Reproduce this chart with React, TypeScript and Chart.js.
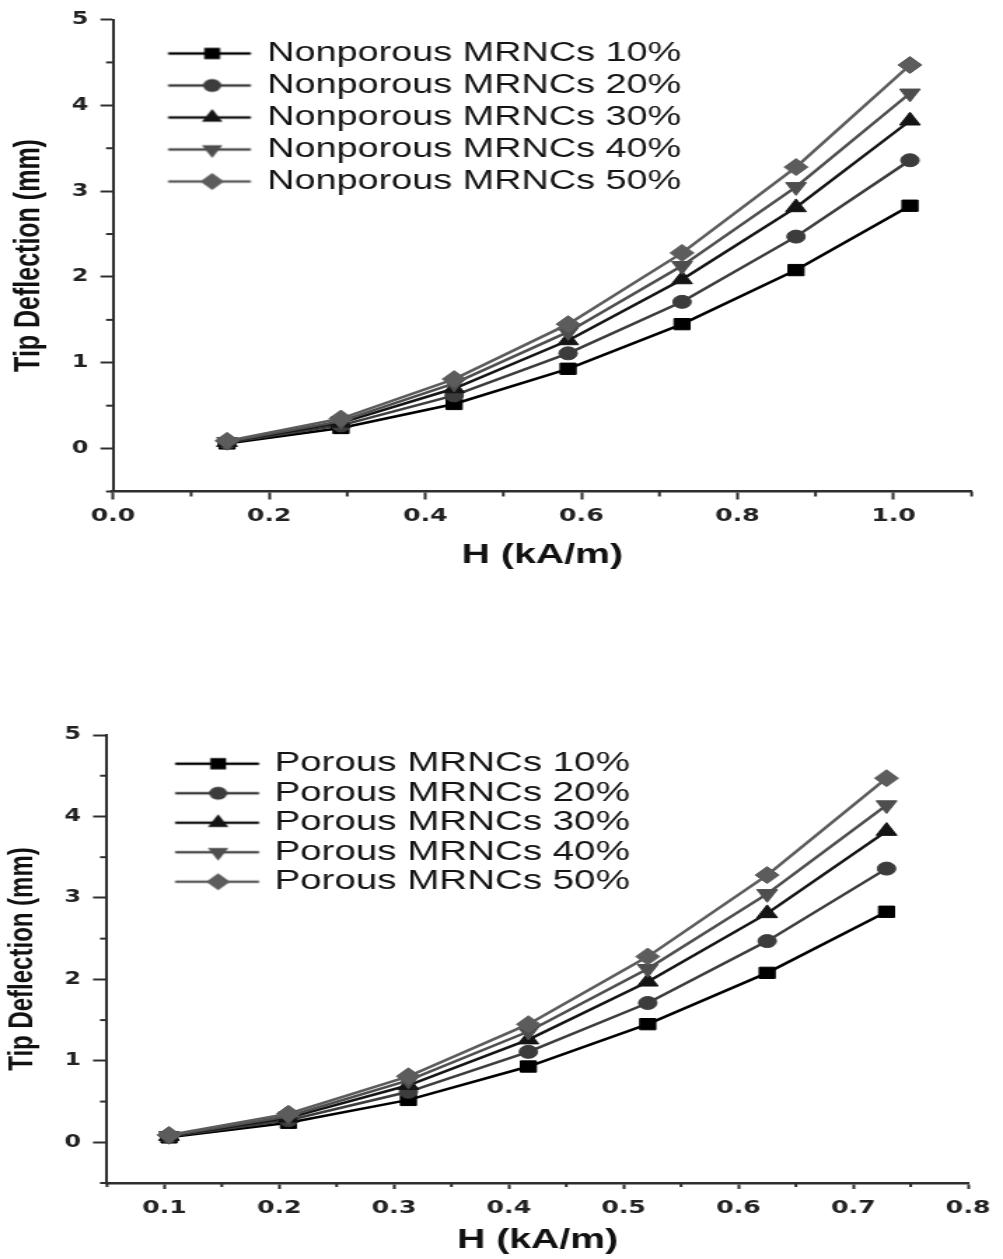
import React, { useEffect, useRef } from 'react';
import { Chart, registerables } from 'chart.js';

Chart.register(...registerables);

// ---------------- DATA ----------------
const topX = [0.146, 0.292, 0.437, 0.583, 0.729, 0.875, 1.021];
const bottomX = [0.104, 0.208, 0.3125, 0.417, 0.521, 0.625, 0.729];

const deflection10 = [0.06, 0.24, 0.52, 0.93, 1.45, 2.08, 2.83];
const deflection20 = [0.07, 0.27, 0.62, 1.11, 1.71, 2.47, 3.36];
const deflection30 = [0.075, 0.3, 0.7, 1.26, 1.97, 2.81, 3.82];
const deflection40 = [0.08, 0.32, 0.76, 1.36, 2.13, 3.05, 4.14];
const deflection50 = [0.09, 0.35, 0.81, 1.45, 2.28, 3.28, 4.47];

const topLabels = [
  'Nonporous MRNCs 10%',
  'Nonporous MRNCs 20%',
  'Nonporous MRNCs 30%',
  'Nonporous MRNCs 40%',
  'Nonporous MRNCs 50%',
];
const bottomLabels = [
  'Porous MRNCs 10%',
  'Porous MRNCs 20%',
  'Porous MRNCs 30%',
  'Porous MRNCs 40%',
  'Porous MRNCs 50%',
];

const yTicks = [0, 1, 2, 3, 4, 5];
const yMinorTicks = [-0.5, 0.5, 1.5, 2.5, 3.5, 4.5];
const topXTicks = [0, 0.2, 0.4, 0.6, 0.8, 1.0];
const topXMinorTicks = [0.1, 0.3, 0.5, 0.7, 0.9, 1.1];
const bottomXTicks = [0.1, 0.2, 0.3, 0.4, 0.5, 0.6, 0.7, 0.8];
const bottomXMinorTicks = [0.05, 0.15, 0.25, 0.35, 0.45, 0.55, 0.65, 0.75];

const yTitle = 'Tip Deflection (mm)';
const xTitle = 'H (kA/m)';

// ---------------- STYLE ----------------
const FONT = "'Liberation Sans', Arial, Helvetica, sans-serif";
const TICK_FONT = "'DejaVu Sans', 'Liberation Sans', Arial, sans-serif";
const INNER_W = 716;
const CSS_W = 1003;
const AXIS_COLOR = '#2e2e2e';
const SERIES_COLORS = ['#000000', '#3c3c3c', '#141414', '#4e4e4e', '#5c5c5c'];
const POINT_STYLES = ['rect', 'circle', 'triangle', 'triangle', 'rectRot'];
const POINT_ROT = [0, 0, 0, 180, 0];
const POINT_RADII = [8, 6.5, 8.5, 8.5, 8.5];

function makeLegendSymbol(i: number, boxWidth: number, lineFrom: number, lineTo: number, markerAt: number) {
  const half = boxWidth / 2;
  const maxDist = Math.max(Math.abs(lineFrom - half), Math.abs(lineTo - half), Math.abs(markerAt - half) + 10);
  const W = Math.ceil(2 * maxDist + 4);
  const H = 26;
  const toImg = (rel: number) => rel - half + W / 2;
  const c = document.createElement('canvas');
  c.width = W;
  c.height = H;
  const ctx = c.getContext('2d')!;
  const cy = H / 2;
  const col = SERIES_COLORS[i];
  ctx.strokeStyle = col;
  ctx.lineWidth = 2.5;
  ctx.beginPath();
  ctx.moveTo(toImg(lineFrom), cy);
  ctx.lineTo(toImg(lineTo), cy);
  ctx.stroke();
  ctx.fillStyle = col;
  const r = POINT_RADII[i];
  const mx = toImg(markerAt);
  ctx.beginPath();
  if (i === 0) {
    const s = r * Math.SQRT1_2;
    ctx.rect(mx - s, cy - s, 2 * s, 2 * s);
  } else if (i === 1) {
    ctx.arc(mx, cy, r, 0, Math.PI * 2);
  } else if (i === 2) {
    ctx.moveTo(mx, cy - r);
    ctx.lineTo(mx + r * 0.866, cy + r / 2);
    ctx.lineTo(mx - r * 0.866, cy + r / 2);
    ctx.closePath();
  } else if (i === 3) {
    ctx.moveTo(mx, cy + r);
    ctx.lineTo(mx + r * 0.866, cy - r / 2);
    ctx.lineTo(mx - r * 0.866, cy - r / 2);
    ctx.closePath();
  } else {
    ctx.moveTo(mx, cy - r);
    ctx.lineTo(mx + r, cy);
    ctx.lineTo(mx, cy + r);
    ctx.lineTo(mx - r, cy);
    ctx.closePath();
  }
  ctx.fill();
  return c;
}

const minorTickPlugin = {
  id: 'minorTicks',
  afterDraw(chart: any, _args: any, opts: any) {
    const { ctx, chartArea } = chart;
    const xs = chart.scales.x;
    const ys = chart.scales.y;
    ctx.save();
    ctx.strokeStyle = AXIS_COLOR;
    ctx.lineWidth = 2;
    (opts.xMinor || []).forEach((v: number) => {
      const px = xs.getPixelForValue(v);
      ctx.beginPath();
      ctx.moveTo(px, chartArea.bottom);
      ctx.lineTo(px, chartArea.bottom + opts.xLen);
      ctx.stroke();
    });
    (opts.yMinor || []).forEach((v: number) => {
      const py = ys.getPixelForValue(v);
      ctx.beginPath();
      ctx.moveTo(chartArea.left, py);
      ctx.lineTo(chartArea.left - opts.yLen, py);
      ctx.stroke();
    });
    ctx.restore();
  },
};

type Panel = {
  canvasH: number;
  cssTop: number;
  xs: number[];
  labels: string[];
  xMin: number;
  xMax: number;
  xMajor: number[];
  xMinor: number[];
  pad: { left: number; right: number; top: number; bottom: number };
  yWidth: number;
  xHeight: number;
  yTitleSize: number;
  yTitlePad: number;
  xTitleSize: number;
  xTitlePad: number;
  yTickFont: number;
  yTickLen: number;
  yTickPad: number;
  yMinorLen: number;
  xTickFont: number;
  xTickLen: number;
  xTickPad: number;
  xMinorLen: number;
  legendFont: number;
  legendPad: number;
  legendTitleH: number;
  legendBox: number;
  legendLineFrom: number;
  legendLineTo: number;
  legendMarker: number;
};

const seriesValues = [deflection10, deflection20, deflection30, deflection40, deflection50];

const TOP_PANEL: Panel = {
  canvasH: 600,
  cssTop: 0,
  xs: topX,
  labels: topLabels,
  xMin: 0,
  xMax: 1.1,
  xMajor: topXTicks,
  xMinor: topXMinorTicks,
  pad: { left: 0, right: 22.4, top: 19.5, bottom: 0 },
  yWidth: 80.7,
  xHeight: 108.5,
  yTitleSize: 25,
  yTitlePad: 6.4,
  xTitleSize: 28,
  xTitlePad: 28.2,
  yTickFont: 17,
  yTickLen: 9,
  yTickPad: 8.5,
  yMinorLen: 5,
  xTickFont: 18,
  xTickLen: 8,
  xTickPad: 6,
  xMinorLen: 5,
  legendFont: 27,
  legendPad: 5,
  legendTitleH: 35,
  legendBox: 91.5,
  legendLineFrom: 34.3,
  legendLineTo: 93.3,
  legendMarker: 65.7,
};

const BOTTOM_PANEL: Panel = {
  canvasH: 609,
  cssTop: 650,
  xs: bottomX,
  labels: bottomLabels,
  xMin: 0.05,
  xMax: 0.8,
  xMajor: bottomXTicks,
  xMinor: bottomXMinorTicks,
  pad: { left: 0, right: 17.4, top: 85, bottom: 0 },
  yWidth: 76.4,
  xHeight: 76,
  yTitleSize: 24,
  yTitlePad: 1.6,
  xTitleSize: 28,
  xTitlePad: 2.2,
  yTickFont: 17,
  yTickLen: 10,
  yTickPad: 8.5,
  yMinorLen: 5,
  xTickFont: 18,
  xTickLen: 6,
  xTickPad: 9,
  xMinorLen: 4,
  legendFont: 27.5,
  legendPad: 2,
  legendTitleH: 98,
  legendBox: 103.75,
  legendLineFrom: 46.6,
  legendLineTo: 106.5,
  legendMarker: 77.3,
};

function buildConfig(p: Panel): any {
  const datasets = seriesValues.map((vals, i) => ({
    label: p.labels[i],
    data: p.xs.map((x, k) => ({ x, y: vals[k] })),
    borderColor: SERIES_COLORS[i],
    backgroundColor: SERIES_COLORS[i],
    borderWidth: 2.5,
    pointStyle: POINT_STYLES[i],
    pointRotation: POINT_ROT[i],
    pointRadius: POINT_RADII[i],
    pointBackgroundColor: SERIES_COLORS[i],
    pointBorderColor: SERIES_COLORS[i],
    pointBorderWidth: 1,
    tension: 0,
    fill: false,
    order: 5 - i,
  }));

  const symbols = seriesValues.map((_, i) =>
    makeLegendSymbol(i, p.legendBox, p.legendLineFrom, p.legendLineTo, p.legendMarker)
  );

  return {
    type: 'line',
    data: { datasets },
    plugins: [minorTickPlugin],
    options: {
      animation: false,
      responsive: false,
      devicePixelRatio: 1,
      layout: { padding: p.pad },
      scales: {
        x: {
          type: 'linear',
          min: p.xMin,
          max: p.xMax,
          afterBuildTicks: (scale: any) => {
            scale.ticks = p.xMajor.map((v) => ({ value: v }));
          },
          afterFit: (scale: any) => {
            scale.height = p.xHeight;
          },
          grid: {
            display: true,
            drawOnChartArea: false,
            drawTicks: true,
            tickLength: p.xTickLen,
            tickWidth: 2,
            tickColor: AXIS_COLOR,
          },
          border: { display: true, color: AXIS_COLOR, width: 2.5 },
          ticks: {
            autoSkip: false,
            maxRotation: 0,
            padding: p.xTickPad,
            color: '#222',
            font: { family: TICK_FONT, size: p.xTickFont, weight: 'bold' },
            callback: (v: any) => Number(v).toFixed(1),
          },
          title: {
            display: true,
            text: xTitle,
            color: '#111',
            font: { family: FONT, size: p.xTitleSize, weight: 'bold', lineHeight: 1.2 },
            padding: { top: 0, bottom: p.xTitlePad },
          },
        },
        y: {
          type: 'linear',
          min: -0.5,
          max: 5,
          afterBuildTicks: (scale: any) => {
            scale.ticks = yTicks.map((v) => ({ value: v }));
          },
          afterFit: (scale: any) => {
            scale.width = p.yWidth;
          },
          grid: {
            display: true,
            drawOnChartArea: false,
            drawTicks: true,
            tickLength: p.yTickLen,
            tickWidth: 2,
            tickColor: AXIS_COLOR,
          },
          border: { display: true, color: AXIS_COLOR, width: 2 },
          ticks: {
            padding: p.yTickPad,
            color: '#222',
            font: { family: TICK_FONT, size: p.yTickFont, weight: 'bold' },
            callback: (v: any) => String(v),
          },
          title: {
            display: true,
            text: yTitle,
            color: '#111',
            font: { family: FONT, size: p.yTitleSize, weight: 'bold', lineHeight: 1.2 },
            padding: { top: p.yTitlePad, bottom: 0 },
          },
        },
      },
      plugins: {
        minorTicks: {
          xMinor: p.xMinor,
          yMinor: yMinorTicks,
          xLen: p.xMinorLen,
          yLen: p.yMinorLen,
        },
        tooltip: { enabled: false },
        legend: {
          display: true,
          position: 'chartArea',
          align: 'start',
          title: {
            display: true,
            text: ' ',
            font: { size: 10, lineHeight: 1 },
            padding: { top: p.legendTitleH - 10, bottom: 0 },
          },
          labels: {
            usePointStyle: true,
            pointStyleWidth: p.legendBox,
            padding: p.legendPad,
            color: '#151515',
            font: { family: FONT, size: p.legendFont },
            generateLabels: (chart: any) =>
              chart.data.datasets.map((ds: any, i: number) => ({
                text: ds.label,
                fillStyle: 'rgba(0,0,0,0)',
                strokeStyle: 'rgba(0,0,0,0)',
                lineWidth: 0,
                hidden: false,
                datasetIndex: i,
                pointStyle: symbols[i],
                fontColor: '#151515',
              })),
          },
        },
      },
    },
  };
}

function ChartPanel({ panel }: { panel: Panel }) {
  const ref = useRef<HTMLCanvasElement | null>(null);
  useEffect(() => {
    if (!ref.current) return;
    const chart = new Chart(ref.current, buildConfig(panel));
    return () => chart.destroy();
  }, [panel]);
  return (
    <canvas
      ref={ref}
      width={INNER_W}
      height={panel.canvasH}
      style={{
        position: 'absolute',
        left: 0,
        top: panel.cssTop,
        width: `${CSS_W}px`,
        height: `${panel.canvasH}px`,
        display: 'block',
      }}
    />
  );
}

export default function App() {
  return (
    <div
      style={{
        position: 'absolute',
        left: 0,
        top: 0,
        width: CSS_W,
        height: 1259,
        background: '#ffffff',
        overflow: 'hidden',
      }}
    >
      <ChartPanel panel={TOP_PANEL} />
      <ChartPanel panel={BOTTOM_PANEL} />
    </div>
  );
}
